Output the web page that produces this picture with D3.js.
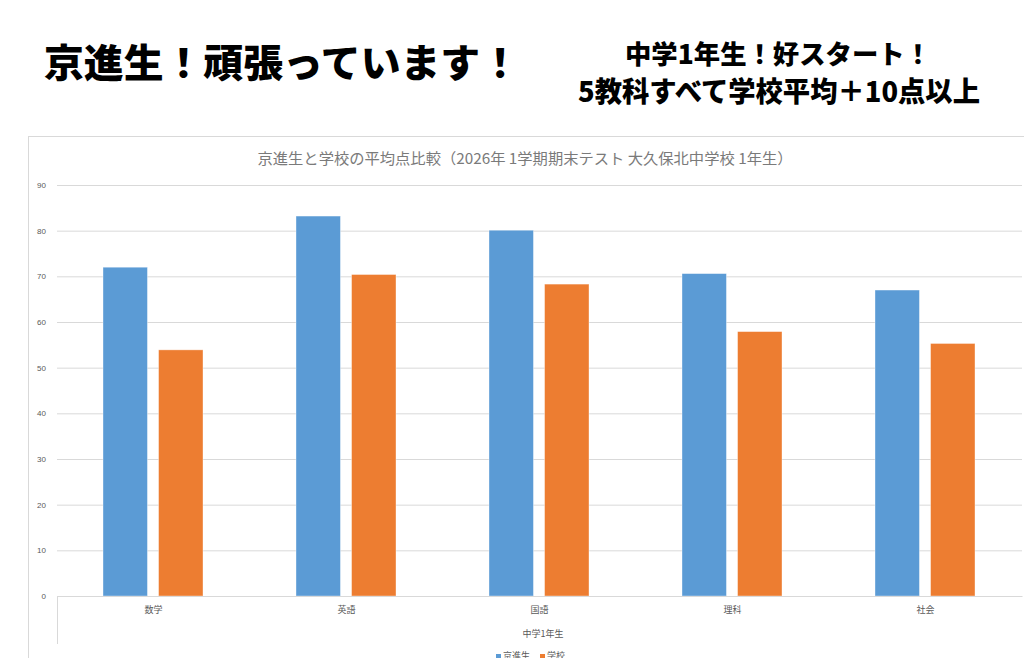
<!DOCTYPE html>
<html>
<head>
<meta charset="utf-8">
<script src="https://cdn.jsdelivr.net/npm/d3@7"></script>
<style>
  html, body { margin: 0; padding: 0; background: #fff; overflow: hidden; }
  svg { display: block; }
</style>
</head>
<body>
<div id="chart"></div>
<script>
// data
var subjects = ["数学", "英語", "国語", "理科", "社会"];
var seriesNames = ["京進生", "学校"];
var kyoshinScores = [72.0, 83.2, 80.1, 70.6, 67.0];
var schoolScores = [53.9, 70.4, 68.3, 57.9, 55.3];
var yTicks = [0, 10, 20, 30, 40, 50, 60, 70, 80, 90];
var seriesColors = ["#5b9bd5", "#ed7d31"];

var headline = "京進生！頑張っています！";
var subLine1 = "中学1年生！好スタート！";
var subLine2 = "5教科すべて学校平均＋10点以上";
var chartTitle = "京進生と学校の平均点比較（2026年 1学期期末テスト 大久保北中学校 1年生）";
var axisTitle = "中学1年生";

var W = 1024, H = 658;
var jpFont = "'Noto Sans CJK JP', 'Noto Sans', sans-serif";

var svg = d3.select("#chart").append("svg")
    .attr("width", W)
    .attr("height", H);

// big heading texts
svg.append("text")
    .attr("x", 44)
    .attr("y", 77)
    .attr("font-family", jpFont)
    .attr("font-weight", 900)
    .attr("font-size", 39)
    .attr("textLength", 476)
    .attr("lengthAdjust", "spacingAndGlyphs")
    .attr("fill", "#000")
    .text(headline);

svg.append("text")
    .attr("x", 778)
    .attr("y", 64)
    .attr("text-anchor", "middle")
    .attr("font-family", jpFont)
    .attr("font-weight", 900)
    .attr("font-size", 26)
    .attr("textLength", 306)
    .attr("lengthAdjust", "spacingAndGlyphs")
    .attr("fill", "#000")
    .text(subLine1);

svg.append("text")
    .attr("x", 779)
    .attr("y", 102)
    .attr("text-anchor", "middle")
    .attr("font-family", jpFont)
    .attr("font-weight", 900)
    .attr("font-size", 28)
    .attr("textLength", 402)
    .attr("lengthAdjust", "spacingAndGlyphs")
    .attr("fill", "#000")
    .text(subLine2);

// chart frame
svg.append("rect")
    .attr("x", 28.5)
    .attr("y", 136.5)
    .attr("width", 1100)
    .attr("height", 600)
    .attr("fill", "#fff")
    .attr("stroke", "#d9d9d9");

svg.append("text")
    .attr("x", 525)
    .attr("y", 164)
    .attr("text-anchor", "middle")
    .attr("font-family", jpFont)
    .attr("font-size", 15)
    .attr("textLength", 535)
    .attr("lengthAdjust", "spacingAndGlyphs")
    .attr("fill", "#7a7a7a")
    .text(chartTitle);

// plot area
var plotLeft = 57, plotRight = 1022, plotTop = 185, plotBottom = 596;

var y = d3.scaleLinear().domain([0, 90]).range([plotBottom, plotTop]);
var x0 = d3.scaleBand().domain(subjects).range([plotLeft, plotRight]).padding(0);
var x1 = d3.scaleBand().domain(seriesNames).range([46, 146]).paddingInner(0.2);

var yAxis = svg.append("g")
    .attr("transform", "translate(" + plotLeft + ",0)")
    .call(d3.axisLeft(y).tickValues(yTicks).tickSize(-(plotRight - plotLeft)).tickPadding(11));

yAxis.select(".domain").remove();
yAxis.selectAll(".tick line").attr("stroke", "#d9d9d9");
yAxis.selectAll(".tick text")
    .attr("font-family", "'Liberation Sans', Arial, sans-serif")
    .attr("font-size", 8)
    .attr("fill", "#595959");

var table = subjects.map(function(s, i) {
    return { subject: s, values: [kyoshinScores[i], schoolScores[i]] };
});

var groups = svg.append("g").selectAll("g")
    .data(table)
    .enter().append("g")
    .attr("transform", function(d) { return "translate(" + x0(d.subject) + ",0)"; });

groups.selectAll("rect")
    .data(function(d) {
        return d.values.map(function(v, j) { return { name: seriesNames[j], value: v, idx: j }; });
    })
    .enter().append("rect")
    .attr("x", function(d) { return x1(d.name); })
    .attr("y", function(d) { return y(d.value); })
    .attr("width", x1.bandwidth())
    .attr("height", function(d) { return plotBottom - y(d.value); })
    .attr("fill", function(d) { return seriesColors[d.idx]; })
    .attr("stroke", "#fff")
    .attr("stroke-opacity", 0.5)
    .attr("stroke-width", 0.75);

// category axis
var xAxis = svg.append("g")
    .attr("transform", "translate(0," + plotBottom + ")")
    .call(d3.axisBottom(x0).tickSize(0).tickPadding(11));

xAxis.select(".domain").attr("stroke", "#d9d9d9");
xAxis.selectAll(".tick text")
    .attr("font-family", jpFont)
    .attr("font-size", 9)
    .attr("fill", "#595959");

svg.append("line")
    .attr("x1", plotLeft + 0.5).attr("x2", plotLeft + 0.5)
    .attr("y1", plotBottom).attr("y2", 644)
    .attr("stroke", "#d9d9d9");

svg.append("text")
    .attr("x", 543)
    .attr("y", 637)
    .attr("text-anchor", "middle")
    .attr("font-family", jpFont)
    .attr("font-size", 9)
    .attr("fill", "#595959")
    .text(axisTitle);

// legend (cut by the bottom edge, as in the picture)
var legend = svg.append("g").attr("transform", "translate(496,659)");
var legendItems = legend.selectAll("g")
    .data(seriesNames)
    .enter().append("g")
    .attr("transform", function(d, i) { return "translate(" + (i * 44) + ",0)"; });

legendItems.append("rect")
    .attr("x", 0).attr("y", -5)
    .attr("width", 5).attr("height", 5)
    .attr("fill", function(d, i) { return seriesColors[i]; });

legendItems.append("text")
    .attr("x", 7)
    .attr("y", 0)
    .attr("font-family", jpFont)
    .attr("font-size", 9)
    .attr("fill", "#595959")
    .text(function(d) { return d; });
</script>
</body>
</html>
